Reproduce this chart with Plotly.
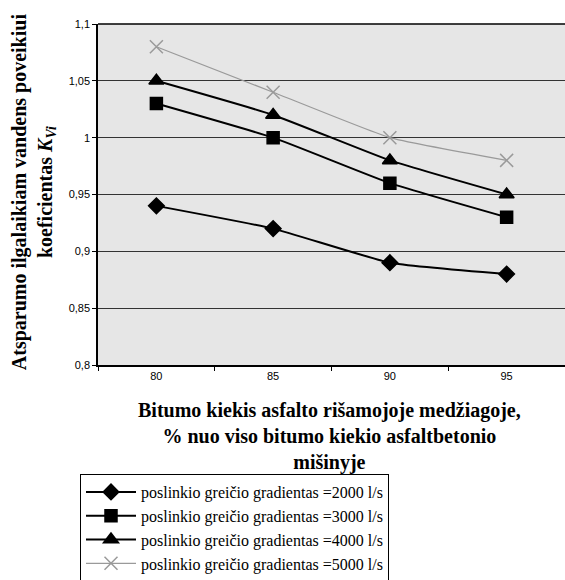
import plotly.graph_objects as go

# Bitumen share in binder, % of total bitumen in the asphalt mix
bitumen_share = ["80", "85", "90", "95"]

# Long-term water resistance coefficient K_Vi per shear-rate gradient
k_2000 = [0.94, 0.92, 0.89, 0.88]
k_3000 = [1.03, 1.00, 0.96, 0.93]
k_4000 = [1.05, 1.02, 0.98, 0.95]
k_5000 = [1.08, 1.04, 1.00, 0.98]

series_names = [
    "poslinkio greičio gradientas =2000 l/s",
    "poslinkio greičio gradientas =3000 l/s",
    "poslinkio greičio gradientas =4000 l/s",
    "poslinkio greičio gradientas =5000 l/s",
]

y_tick_vals = [0.8, 0.85, 0.9, 0.95, 1.0, 1.05, 1.1]
y_tick_text = ["0,8", "0,85", "0,9", "0,95", "1", "1,05", "1,1"]

SERIF = "Liberation Serif"
SANS = "Liberation Sans"

fig = go.Figure()

styles = [
    (k_2000, "diamond", "black", 2, 12),
    (k_3000, "square", "black", 2, 12),
    (k_4000, "triangle-up", "black", 2, 13),
    (k_5000, "x-thin-open", "#9a9a9a", 1.2, 13),
]
for (vals, sym, col, lw, ms), name in zip(styles, series_names):
    fig.add_trace(go.Scatter(
        x=bitumen_share, y=vals, name=name,
        mode="lines+markers",
        line=dict(color=col, width=lw, shape="spline", smoothing=0.4),
        marker=dict(symbol=sym, size=ms, color=col,
                    line=dict(color=col, width=1.5)),
    ))

fig.update_layout(
    width=565, height=580,
    margin=dict(l=98, r=0, t=24, b=215, autoexpand=False),
    paper_bgcolor="white",
    plot_bgcolor="#e6e6e6",
    showlegend=True,
    legend=dict(
        xref="container", yref="container",
        x=80 / 565, y=1 - 474 / 580, xanchor="left", yanchor="top",
        bgcolor="white", bordercolor="black", borderwidth=1,
        font=dict(family=SERIF, size=16, color="black"),
        tracegroupgap=0, itemwidth=50,
    ),
    xaxis=dict(
        type="category", range=[-0.5, 3.5],
        tickson="boundaries", ticks="outside", ticklen=4,
        tickcolor="black",
        showline=True, linecolor="black", linewidth=1.5,
        showgrid=False,
        tickfont=dict(family=SANS, size=11, color="black"),
    ),
    yaxis=dict(
        range=[0.8, 1.1], tickvals=y_tick_vals, ticktext=y_tick_text,
        ticks="outside", ticklen=4, tickcolor="black",
        showline=True, linecolor="black", linewidth=1.5,
        showgrid=True, gridcolor="#333333", gridwidth=1.4,
        zeroline=False,
        tickfont=dict(family=SANS, size=11, color="black"),
    ),
)

# top border of the plot frame
fig.add_shape(type="line", xref="paper", yref="paper", x0=0, x1=1, y0=1, y1=1,
              line=dict(color="black", width=1.5))

fig.add_annotation(
    xref="paper", yref="paper", x=0.495, y=-0.095, xanchor="center", yanchor="top",
    text="<b>Bitumo kiekis asfalto rišamojoje medžiagoje,<br>"
         "% nuo viso bitumo kiekio asfaltbetonio<br>mišinyje</b>",
    showarrow=False, align="center",
    font=dict(family=SERIF, size=20, color="black"),
)

fig.add_annotation(
    xref="paper", yref="paper", x=-0.139, y=0.507, xanchor="center", yanchor="middle",
    text="<b>Atsparumo ilgalaikiam vandens poveikiui<br>"
         "koeficientas <i>K</i><sub><i>Vi</i></sub></b>",
    showarrow=False, align="center", textangle=-90,
    font=dict(family=SERIF, size=20, color="black"),
)

fig.write_html("out.html")
